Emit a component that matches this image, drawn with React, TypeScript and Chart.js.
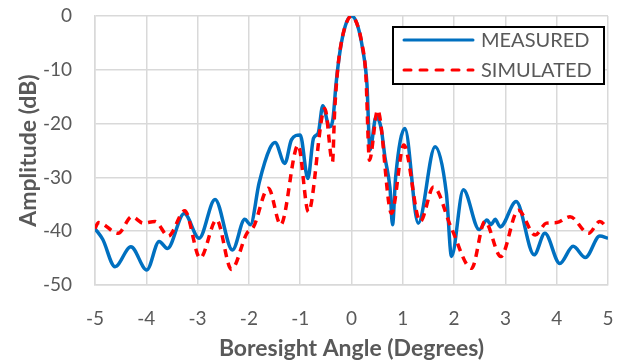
import { useEffect, useRef } from "react";
import { Chart, registerables } from "chart.js";

Chart.register(...registerables);

const measuredAngles = [
  -5.0, -4.85, -4.61, -4.3, -3.99, -3.75, -3.59, -3.26, -2.97, -2.66, -2.32, -2.08, -1.97, -1.8,
  -1.59, -1.49, -1.3, -1.17, -1.0, -0.85, -0.74, -0.65, -0.56, -0.43, -0.36, -0.3, -0.22, -0.12,
  0.0, 0.12, 0.22, 0.3, 0.36, 0.48, 0.58, 0.65, 0.75, 0.8, 0.86, 1.04, 1.3, 1.63, 1.85, 1.95,
  2.18, 2.49, 2.64, 2.72, 2.8, 2.9, 3.21, 3.56, 3.77, 4.06, 4.32, 4.56, 4.84, 5.0,
];
const measuredDb = [
  -39.5, -41.5, -46.6, -42.9, -47.2, -41.9, -43.2, -36.7, -41.3, -34.1, -43.5, -37.8, -38.8, -31.0,
  -24.6, -23.5, -27.4, -23.0, -22.1, -30.2, -22.7, -21.8, -16.7, -20.6, -19.0, -12.5, -6.3, -1.8,
  0.0, -1.8, -6.3, -12.5, -24.9, -18.7, -21.0, -26.1, -32.0, -38.8, -30.0, -20.9, -38.5, -24.3, -33.0, -44.7,
  -32.3, -39.7, -37.9, -38.8, -37.8, -39.2, -34.5, -44.4, -40.4, -46.0, -42.8, -44.9, -40.9, -41.3,
];

const simulatedAngles = [
  -5.0, -4.93, -4.55, -4.28, -4.06, -3.83, -3.57, -3.25, -2.95, -2.63, -2.34, -2.04, -1.91, -1.62,
  -1.38, -1.04, -0.84, -0.52, -0.37, -0.33, -0.27, -0.2, -0.1, 0.0, 0.1, 0.2, 0.28, 0.35, 0.51,
  0.78, 1.02, 1.34, 1.6, 1.95, 2.34, 2.6, 2.91, 3.25, 3.58, 3.8, 4.0, 4.26, 4.62, 4.84, 5.0,
];
const simulatedDb = [
  -39.5, -38.4, -40.4, -37.3, -38.5, -38.2, -40.9, -36.2, -45.0, -37.9, -47.1, -40.4, -39.2, -32.0,
  -38.8, -24.0, -36.4, -17.2, -27.1, -18.0, -10.0, -5.0, -1.3, 0.0, -1.3, -5.0, -11.0, -26.8, -17.5,
  -36.7, -24.0, -38.2, -31.8, -39.5, -46.9, -38.2, -44.7, -36.1, -40.7, -38.5, -38.4, -37.3, -40.4, -38.2, -39.5,
];

const xTicks = [-5, -4, -3, -2, -1, 0, 1, 2, 3, 4, 5];
const yTicks = [-50, -40, -30, -20, -10, 0];
const seriesNames = ["MEASURED", "SIMULATED"];
const seriesColors = ["#0070C0", "#FF0000"];

const TEXT = "#595959";
const GRID = "#d9d9d9";
const FONT = "Lato, 'Open Sans', sans-serif";

const boxLegend = {
  id: "boxLegend",
  afterDraw(chart: any) {
    const { ctx, chartArea } = chart;
    const w = 211;
    const h = 57;
    const x0 = chartArea.right - 4 - w;
    const y0 = chartArea.top + 11;
    ctx.save();
    ctx.fillStyle = "#ffffff";
    ctx.fillRect(x0, y0, w, h);
    ctx.strokeStyle = "#000000";
    ctx.lineWidth = 2;
    ctx.strokeRect(x0, y0, w, h);
    seriesNames.forEach((name, i) => {
      const cy = y0 + 13 + i * 30;
      ctx.beginPath();
      ctx.strokeStyle = seriesColors[i];
      ctx.lineWidth = 3;
      ctx.lineCap = "round";
      ctx.setLineDash(i === 0 ? [] : [7, 9]);
      ctx.moveTo(x0 + 11, cy);
      ctx.lineTo(x0 + 80, cy);
      ctx.stroke();
      ctx.setLineDash([]);
      ctx.fillStyle = TEXT;
      ctx.font = `20px ${FONT}`;
      ctx.textBaseline = "middle";
      ctx.textAlign = "left";
      ctx.fillText(name, x0 + 88, cy + 1);
    });
    ctx.restore();
  },
};

export default function App() {
  const ref = useRef<HTMLCanvasElement | null>(null);
  useEffect(() => {
    if (!ref.current) return;
    const chart = new Chart(ref.current, {
      type: "line",
      data: {
        datasets: [
          {
            label: seriesNames[0],
            data: measuredAngles.map((x, i) => ({ x, y: measuredDb[i] })),
            borderColor: seriesColors[0],
            backgroundColor: seriesColors[0],
            borderWidth: 3.5,
            pointRadius: 0,
            cubicInterpolationMode: "monotone",
            order: 1,
          },
          {
            label: seriesNames[1],
            data: simulatedAngles.map((x, i) => ({ x, y: simulatedDb[i] })),
            borderColor: seriesColors[1],
            backgroundColor: seriesColors[1],
            borderWidth: 3.5,
            borderDash: [8, 6],
            pointRadius: 0,
            cubicInterpolationMode: "monotone",
            order: 0,
          },
        ],
      },
      options: {
        responsive: false,
        animation: false,
        devicePixelRatio: 1,
        layout: { padding: { top: 16, right: 17, left: 0, bottom: 0 } },
        plugins: { legend: { display: false }, tooltip: { enabled: false } },
        scales: {
          x: {
            type: "linear",
            min: -5,
            max: 5,
            afterBuildTicks: (s: any) => {
              s.ticks = xTicks.map((v) => ({ value: v }));
            },
            afterFit: (s: any) => {
              s.height = 77;
              s.paddingLeft = 0;
              s.paddingRight = 0;
            },
            grid: { color: GRID, lineWidth: 1.5, drawTicks: false },
            border: { color: GRID, width: 1.5 },
            ticks: { color: TEXT, font: { family: FONT, size: 19 }, padding: 22 },
            title: {
              display: true,
              text: "Boresight Angle (Degrees)",
              color: TEXT,
              font: { family: FONT, size: 23, weight: "bold" },
              padding: { top: 12, bottom: 0 },
            },
          },
          y: {
            type: "linear",
            min: -50,
            max: 0,
            afterBuildTicks: (s: any) => {
              s.ticks = yTicks.map((v) => ({ value: v }));
            },
            afterFit: (s: any) => {
              s.width = 95;
              s.paddingTop = 0;
              s.paddingBottom = 0;
            },
            grid: { color: GRID, lineWidth: 1.5, drawTicks: false },
            border: { color: GRID, width: 1.5 },
            ticks: { color: TEXT, font: { family: FONT, size: 19 }, padding: 23 },
            title: {
              display: true,
              text: "Amplitude (dB)",
              color: TEXT,
              font: { family: FONT, size: 23, weight: "bold" },
              padding: { top: 15, bottom: 0 },
            },
          },
        },
      },
      plugins: [boxLegend],
    });
    return () => chart.destroy();
  }, []);
  return (
    <div style={{ position: "fixed", left: 0, top: 0, width: 625, height: 362, background: "#fff" }}>
      <canvas ref={ref} width={625} height={362} />
    </div>
  );
}
